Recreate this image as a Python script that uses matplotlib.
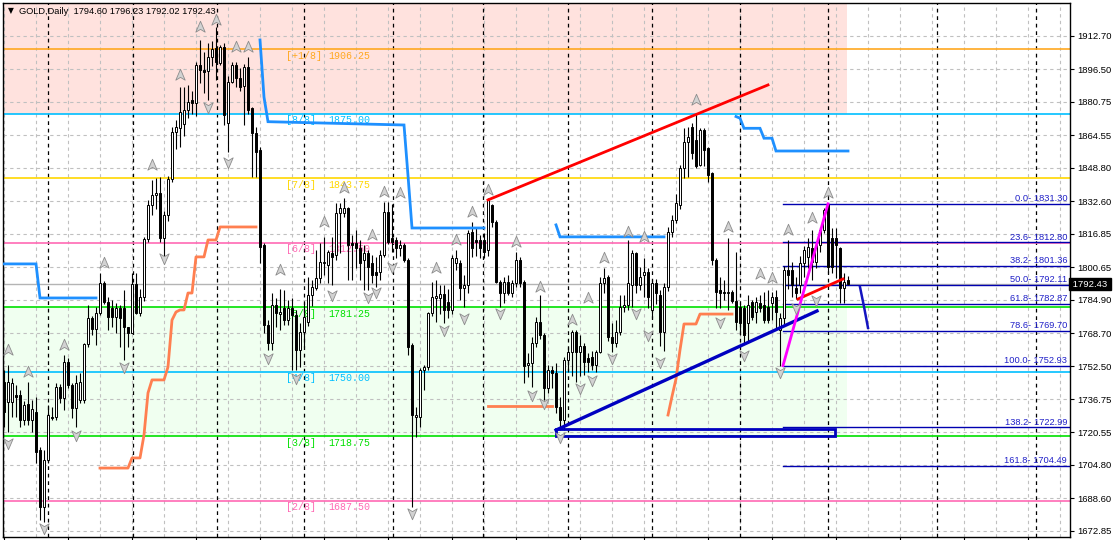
import matplotlib
matplotlib.use("Agg")
import matplotlib.pyplot as plt
import matplotlib.transforms as mtrans
from matplotlib.path import Path
from matplotlib.patches import Rectangle

# ---- daily OHLC (bar 0 = leftmost candle) ----
opens = [
    1745.2, 1735.5, 1735.5, 1738.7, 1738.7, 1726.6, 1734.3, 1726.6, 1730.6, 1712.1,
    1684.6, 1707.2, 1728.2, 1728.2, 1742.7, 1737.1, 1754.8, 1743.5, 1732.2, 1736.3,
    1736.3, 1763.2, 1775.8, 1770.7, 1778.3, 1792.8, 1783.9, 1780.7, 1776.7, 1780.7,
    1780.7, 1771.8, 1768.6, 1792.3, 1778.3, 1786.4, 1814.1, 1830.8, 1835.6, 1836.4,
    1814.6, 1825.9, 1843.4, 1866.0, 1868.0, 1870.0, 1876.8, 1881.7, 1880.0, 1898.6,
    1896.0, 1895.8, 1902.6, 1906.7, 1899.4, 1907.5, 1870.3, 1890.5, 1898.6, 1892.1,
    1888.4, 1897.8, 1877.6, 1865.5, 1857.4, 1811.4, 1772.6, 1763.8, 1782.3, 1778.0,
    1780.7, 1775.1, 1780.7, 1777.5, 1760.5, 1769.4, 1774.2, 1787.1, 1790.4, 1795.2,
    1802.5, 1801.7, 1807.3, 1806.5, 1826.7, 1826.7, 1829.1, 1812.2, 1812.2, 1809.7,
    1804.1, 1807.3, 1802.5, 1798.4, 1798.4, 1806.5, 1827.5, 1814.6, 1813.8, 1809.7,
    1811.4, 1804.1, 1762.9, 1728.2, 1728.2, 1750.8, 1752.4, 1778.3, 1785.5, 1785.5,
    1787.5, 1783.9, 1779.9, 1802.5, 1802.5, 1790.4, 1792.0, 1817.8, 1813.8, 1813.8,
    1813.8, 1809.0, 1830.8, 1822.7, 1793.6, 1788.0, 1793.6, 1788.0, 1792.8, 1804.1,
    1793.6, 1753.3, 1754.1, 1763.8, 1774.3, 1767.8, 1742.0, 1750.8, 1749.2, 1733.1,
    1726.6, 1755.7, 1759.7, 1769.4, 1759.7, 1762.2, 1756.5, 1757.3, 1753.3, 1759.7,
    1792.8, 1796.1, 1767.0, 1763.8, 1769.4, 1781.5, 1782.3, 1792.0, 1807.4, 1792.0,
    1797.0, 1798.5, 1779.9, 1792.8, 1787.2, 1769.4, 1791.2, 1817.9, 1823.5, 1830.8,
    1848.5, 1861.5, 1868.7, 1862.3, 1850.2, 1867.1, 1858.2, 1846.1, 1804.1, 1789.6,
    1788.8, 1788.0, 1788.8, 1784.0, 1781.5, 1780.7, 1773.4, 1783.9, 1779.0, 1783.1,
    1782.3, 1781.5, 1783.1, 1786.0, 1770.2, 1775.9, 1799.3, 1799.3, 1790.4, 1792.0,
    1802.5, 1805.7, 1809.8, 1803.3, 1811.4, 1818.6, 1830.8, 1814.6, 1814.6, 1809.8,
    1790.4, 1794.60,
]
highs = [
    1750.8, 1753.2, 1746.8, 1743.5, 1741.0, 1736.0, 1745.0, 1736.3, 1737.9, 1713.7,
    1712.0, 1733.9, 1733.0, 1744.3, 1744.0, 1758.1, 1756.5, 1744.3, 1748.4, 1749.2,
    1764.0, 1782.3, 1777.0, 1781.5, 1797.6, 1794.0, 1786.3, 1784.7, 1783.1, 1782.3,
    1789.6, 1771.8, 1797.6, 1797.6, 1790.0, 1815.0, 1833.0, 1842.9, 1844.0, 1844.5,
    1828.0, 1845.0, 1868.7, 1872.0, 1888.0, 1888.0, 1889.0, 1886.0, 1900.0, 1910.7,
    1905.0, 1909.0, 1910.0, 1917.2, 1908.3, 1909.0, 1893.0, 1900.0, 1900.0, 1897.0,
    1899.0, 1902.6, 1878.4, 1868.7, 1859.0, 1812.2, 1775.0, 1788.0, 1785.6, 1790.0,
    1789.6, 1784.7, 1785.5, 1779.9, 1773.4, 1783.9, 1796.0, 1794.4, 1808.9, 1812.2,
    1815.4, 1808.9, 1815.4, 1831.6, 1831.6, 1834.0, 1829.9, 1816.0, 1818.6, 1813.8,
    1811.4, 1808.9, 1806.5, 1805.7, 1808.9, 1832.4, 1832.4, 1831.0, 1815.4, 1814.0,
    1812.2, 1804.9, 1763.7, 1733.0, 1751.6, 1753.2, 1779.0, 1793.6, 1794.4, 1792.0,
    1792.0, 1790.0, 1806.5, 1808.9, 1804.1, 1796.8, 1818.6, 1822.7, 1820.0, 1816.0,
    1817.0, 1834.0, 1831.0, 1823.5, 1794.4, 1796.1, 1796.9, 1794.4, 1808.2, 1805.7,
    1794.4, 1758.9, 1767.0, 1776.7, 1787.2, 1768.6, 1753.0, 1752.5, 1754.1, 1737.9,
    1757.3, 1762.0, 1770.0, 1770.2, 1767.8, 1763.8, 1759.0, 1760.0, 1760.5, 1796.1,
    1800.1, 1796.9, 1773.5, 1775.0, 1787.2, 1787.2, 1813.8, 1809.0, 1808.2, 1800.9,
    1805.0, 1800.0, 1795.0, 1795.0, 1789.6, 1793.0, 1820.0, 1826.0, 1836.0, 1850.0,
    1867.9, 1868.7, 1870.3, 1875.2, 1868.0, 1868.0, 1859.0, 1846.9, 1805.0, 1796.1,
    1794.4, 1814.6, 1789.6, 1808.2, 1783.1, 1782.3, 1787.2, 1784.8, 1786.4, 1787.2,
    1788.8, 1789.6, 1788.8, 1789.6, 1778.3, 1801.0, 1813.8, 1803.0, 1796.0, 1806.0,
    1811.0, 1814.6, 1818.6, 1813.0, 1820.0, 1829.5, 1831.6, 1819.5, 1819.5, 1810.6,
    1797.6, 1796.23,
]
lows = [
    1723.4, 1720.9, 1728.2, 1728.2, 1723.4, 1724.0, 1724.2, 1720.9, 1705.6, 1678.1,
    1677.3, 1705.6, 1726.6, 1726.6, 1735.0, 1731.4, 1742.0, 1727.4, 1723.4, 1735.0,
    1735.0, 1762.1, 1768.0, 1763.0, 1777.5, 1783.0, 1770.2, 1771.8, 1768.6, 1762.1,
    1755.7, 1762.1, 1768.6, 1778.0, 1777.0, 1784.0, 1813.0, 1826.0, 1829.0, 1813.0,
    1804.1, 1823.0, 1842.0, 1858.0, 1859.0, 1864.0, 1873.0, 1875.0, 1874.0, 1890.0,
    1885.0, 1881.7, 1898.0, 1891.3, 1898.6, 1869.5, 1856.6, 1889.7, 1888.0, 1886.0,
    1869.5, 1875.0, 1844.5, 1844.5, 1802.5, 1768.6, 1760.5, 1760.5, 1771.8, 1770.0,
    1772.6, 1772.6, 1750.8, 1750.8, 1752.4, 1762.0, 1772.0, 1782.0, 1789.6, 1792.8,
    1797.0, 1792.8, 1792.0, 1804.1, 1807.3, 1825.0, 1794.4, 1794.4, 1800.0, 1794.4,
    1789.6, 1789.6, 1792.8, 1791.2, 1794.4, 1805.7, 1812.0, 1808.0, 1805.0, 1806.0,
    1803.0, 1758.1, 1684.6, 1718.5, 1723.3, 1741.1, 1751.0, 1777.0, 1774.2, 1778.0,
    1773.4, 1776.0, 1778.0, 1799.3, 1784.7, 1781.5, 1788.0, 1805.7, 1806.0, 1804.9,
    1805.0, 1806.0, 1820.0, 1792.8, 1781.5, 1783.1, 1787.2, 1786.4, 1791.2, 1791.0,
    1744.4, 1747.6, 1742.8, 1762.0, 1766.0, 1736.3, 1739.5, 1742.0, 1729.8, 1721.8,
    1721.8, 1750.0, 1748.0, 1745.0, 1748.0, 1748.4, 1750.0, 1750.8, 1750.0, 1758.9,
    1788.0, 1765.0, 1759.7, 1762.0, 1768.0, 1779.0, 1780.0, 1781.5, 1788.0, 1789.6,
    1786.0, 1781.0, 1776.0, 1783.0, 1762.2, 1760.0, 1789.0, 1815.0, 1821.9, 1829.0,
    1843.7, 1844.5, 1853.0, 1848.5, 1849.4, 1849.4, 1842.1, 1801.7, 1780.7, 1780.7,
    1784.8, 1779.9, 1783.1, 1770.2, 1768.0, 1764.0, 1763.8, 1775.1, 1773.4, 1779.1,
    1773.4, 1773.4, 1775.0, 1771.0, 1752.9, 1773.0, 1790.0, 1786.0, 1785.0, 1788.0,
    1796.0, 1800.0, 1794.4, 1800.0, 1808.0, 1817.0, 1798.0, 1798.0, 1795.2, 1783.1,
    1783.1, 1792.02,
]
closes = [
    1730.6, 1745.2, 1744.3, 1737.9, 1726.6, 1733.9, 1726.6, 1731.8, 1711.2, 1684.6,
    1707.2, 1729.0, 1727.4, 1742.7, 1737.1, 1754.8, 1743.5, 1732.2, 1744.7, 1745.2,
    1763.2, 1775.8, 1770.7, 1778.3, 1792.8, 1783.9, 1776.7, 1776.7, 1780.7, 1775.8,
    1771.8, 1768.6, 1792.3, 1778.3, 1786.3, 1814.1, 1830.8, 1835.6, 1836.7, 1814.6,
    1825.9, 1843.4, 1866.0, 1868.7, 1876.0, 1876.8, 1880.8, 1880.0, 1898.6, 1896.0,
    1895.0, 1902.6, 1906.2, 1900.2, 1907.5, 1874.4, 1890.5, 1898.6, 1892.1, 1887.8,
    1897.8, 1876.8, 1865.5, 1856.6, 1810.6, 1772.6, 1763.8, 1782.3, 1778.3, 1779.0,
    1775.1, 1780.7, 1777.5, 1760.5, 1769.4, 1776.6, 1787.1, 1791.2, 1795.2, 1803.3,
    1803.3, 1808.1, 1805.4, 1826.7, 1829.1, 1829.1, 1811.4, 1811.4, 1809.7, 1802.5,
    1807.3, 1800.9, 1796.8, 1796.8, 1806.5, 1827.5, 1813.0, 1813.0, 1809.7, 1811.4,
    1804.1, 1762.1, 1729.0, 1729.0, 1750.8, 1752.4, 1778.3, 1786.3, 1786.5, 1787.5,
    1779.9, 1779.9, 1804.9, 1804.9, 1790.4, 1792.0, 1817.0, 1809.7, 1813.0, 1809.7,
    1808.2, 1833.2, 1822.7, 1793.6, 1788.0, 1793.6, 1788.0, 1792.8, 1804.1, 1792.8,
    1752.5, 1754.1, 1763.8, 1774.3, 1767.8, 1742.0, 1750.8, 1749.2, 1733.1, 1726.6,
    1755.7, 1759.7, 1769.4, 1759.7, 1762.2, 1754.9, 1754.9, 1753.3, 1759.7, 1792.8,
    1795.3, 1767.0, 1763.8, 1769.4, 1781.5, 1782.3, 1792.8, 1807.4, 1792.0, 1796.1,
    1798.5, 1786.4, 1792.8, 1788.0, 1769.4, 1791.2, 1817.9, 1823.5, 1831.6, 1848.5,
    1861.5, 1863.9, 1855.8, 1849.4, 1867.1, 1857.4, 1845.3, 1804.1, 1788.8, 1788.0,
    1788.0, 1788.8, 1784.0, 1774.2, 1773.4, 1767.8, 1782.3, 1776.7, 1783.9, 1780.7,
    1775.1, 1775.1, 1786.4, 1779.1, 1775.9, 1799.3, 1796.9, 1792.0, 1788.0, 1802.5,
    1809.0, 1810.6, 1803.3, 1811.4, 1818.6, 1828.3, 1800.9, 1800.9, 1811.4, 1790.4,
    1793.6, 1792.43,
]

# ---- Murrey math levels ----
murrey_names = ["[+1/8]", "[8/8]", "[7/8]", "[6/8]", "[5/8]", "[4/8]", "[3/8]", "[2/8]"]
murrey_levels = [1906.25, 1875.00, 1843.75, 1812.50, 1781.25, 1750.00, 1718.75, 1687.50]
murrey_colors = ["#ffa820", "#00bfff", "#ffd700", "#ff69b4", "#00e000", "#00bfff", "#00e000", "#ff69b4"]

# ---- Fibonacci retracement (1752.93 -> 1831.30) ----
fib_pcts = ["0.0", "23.6", "38.2", "50.0", "61.8", "78.6", "100.0", "138.2", "161.8"]
fib_levels = [1831.30, 1812.80, 1801.36, 1792.11, 1782.87, 1769.70, 1752.93, 1722.99, 1704.49]

# ---- step indicators (bar index, value) ----
blue_bars = [[0, 8, 9, 23],
             [64, 65, 66, 100, 101, 102, 120],
             [138, 139, 165],
             [183, 184, 185, 189, 190, 192, 193, 211]]
blue_vals = [[1802.2, 1802.2, 1785.7, 1785.7],
             [1910.7, 1883.0, 1871.1, 1869.5, 1845.0, 1819.6, 1819.6],
             [1821.1, 1815.3, 1815.3],
             [1873.6, 1872.8, 1867.9, 1867.9, 1863.1, 1863.1, 1856.9, 1856.9]]
orange_bars = [[24, 31, 32, 34, 35, 36, 37, 40, 41, 42, 43, 44, 45, 46, 47, 48, 50, 51, 53, 54, 63],
               [121, 137],
               [166, 167, 168, 169, 170, 173, 174, 182]]
orange_vals = [[1703.3, 1703.3, 1708.2, 1708.2, 1719.3, 1739.7, 1746.0, 1746.0, 1752.3, 1775.0,
                1778.9, 1779.9, 1779.9, 1788.1, 1788.1, 1805.6, 1805.6, 1813.8, 1813.8, 1820.1, 1820.1],
               [1733.4, 1733.4],
               [1729.0, 1738.0, 1746.5, 1760.5, 1773.1, 1773.1, 1777.9, 1777.9]]
proj_bars = [214, 215, 216]
proj_vals = [1791.0, 1781.5, 1771.2]

# ---- drawn objects ----
red_line = ([121, 191], [1833.2, 1888.9])
red_short = ([198.5, 209.75], [1785.2, 1794.9])
navy_trend = ([138, 203.25], [1721.7, 1779.4])
navy_box = (138, 207.75, 1718.9, 1722.0)
magenta_line = ([194.75, 206], [1752.93, 1831.30])

# ---- fractals (bar, price) ----
up_frac_bars = [1, 6, 15, 25, 37, 44, 49, 53, 58, 61, 69, 80, 85, 92, 95, 99, 108, 113, 117, 121,
                128, 134, 142, 146, 150, 156, 160, 173, 181, 189, 192, 196, 202, 206]
up_frac_vals = [1760.5, 1749.8, 1762.9, 1802.6, 1850.1, 1893.8, 1917.0, 1920.4, 1907.3, 1907.3,
                1799.3, 1822.5, 1839.0, 1816.2, 1837.1, 1836.6, 1800.2, 1813.8, 1827.4, 1838.0,
                1812.8, 1791.0, 1775.0, 1785.7, 1805.1, 1817.7, 1815.3, 1881.6, 1820.1, 1797.3,
                1795.4, 1818.6, 1824.5, 1836.6]
dn_frac_bars = [1, 10, 18, 30, 40, 51, 56, 66, 73, 82, 91, 93, 97, 102, 110, 115, 124, 132, 135,
                139, 144, 147, 152, 158, 161, 164, 179, 185, 194, 198, 203]
dn_frac_vals = [1715.4, 1674.2, 1719.3, 1752.3, 1805.1, 1878.3, 1851.6, 1756.6, 1746.9, 1787.1,
                1786.2, 1788.6, 1800.7, 1681.5, 1770.2, 1776.0, 1778.4, 1738.7, 1734.8, 1718.3,
                1742.1, 1746.0, 1756.6, 1778.4, 1767.8, 1754.7, 1774.1, 1758.1, 1749.8, 1780.8,
                1784.7]

yticks = [1912.70, 1896.50, 1880.75, 1864.55, 1848.80, 1832.60, 1816.85, 1800.65,
          1784.90, 1768.70, 1752.50, 1736.75, 1720.55, 1704.80, 1688.60, 1672.85]
month_seps = [11, 32.2, 53.2, 75, 97.2, 119.8, 141, 162, 184, 206, 233.2, 258]
bid = closes[-1]


def main():
    W, H = 1117, 540
    fig = plt.figure(figsize=(W / 100, H / 100), dpi=100)
    ax = fig.add_axes([3 / W, 3 / H, 1067 / W, 534 / H])
    ax.set_xlim(-0.25, 266.5)
    ax.set_ylim(1669.9, 1928.6)
    last = len(closes) - 1

    # shaded zones
    ax.add_patch(Rectangle((-0.25, 1875.0), last, 60, fc="#ffe2de", ec="none", zorder=0))
    ax.add_patch(Rectangle((-0.25, 1718.75), last, 62.5, fc="#f0fff0", ec="none", zorder=0))

    # grid
    for v in yticks:
        ax.axhline(v, color="#c0c0c0", lw=0.8, ls=(0, (3, 3)), zorder=0.5)
    for b in range(0, 267, 8):
        ax.axvline(b, color="#c0c0c0", lw=0.8, ls=(0, (3, 3)), zorder=0.5)
    for b in month_seps:
        ax.axvline(b, color="black", lw=0.9, ls=(0, (3, 3)), zorder=0.6)

    # murrey lines and labels
    for name, lv, col in zip(murrey_names, murrey_levels, murrey_colors):
        ax.axhline(lv, color=col, lw=1.2, zorder=1)
        ax.annotate(name, (70.5, lv), xytext=(0, -4.6), textcoords="offset points",
                    va="center", ha="left", color=col, fontsize=7.2,
                    family="Liberation Mono", zorder=1)
        ax.annotate("%.2f" % lv, (81, lv), xytext=(0, -4.6), textcoords="offset points",
                    va="center", ha="left", color=col, fontsize=7.2,
                    family="Liberation Mono", zorder=1)

    # bid line
    ax.axhline(bid, color="#b4b4b4", lw=1, zorder=1)

    # fib levels
    for pct, lv in zip(fib_pcts, fib_levels):
        ax.plot([194.75, 266.5], [lv, lv], color="#0000b0", lw=1, zorder=2)
        ax.annotate("%s- %.2f" % (pct, lv), (265.8, lv), xytext=(0, 3.6),
                    textcoords="offset points", ha="right", va="center",
                    color="#2020c8", fontsize=6.7, family="Liberation Sans", zorder=2)

    # candles
    for i in range(len(closes)):
        o, h, l, c = opens[i], highs[i], lows[i], closes[i]
        ax.plot([i, i], [l, h], color="black", lw=0.8, zorder=3, solid_capstyle="butt")
        bot, top = min(o, c), max(o, c)
        fc = "white" if c >= o else "black"
        ax.add_patch(Rectangle((i - 0.36, bot), 0.72, max(top - bot, 0.3),
                               fc=fc, ec="black", lw=0.7, zorder=3.1))

    # step indicators
    for bs, vs in zip(blue_bars, blue_vals):
        ax.plot(bs, vs, color="#1e90ff", lw=2, zorder=4, solid_joinstyle="miter")
    for bs, vs in zip(orange_bars, orange_vals):
        ax.plot(bs, vs, color="#ff7f50", lw=2, zorder=4)
    ax.plot(proj_bars, proj_vals, color="#1414c0", lw=1.8, zorder=4)

    # trend objects
    ax.plot(*red_line, color="#ff0000", lw=2, zorder=5)
    ax.plot(*red_short, color="#ff0000", lw=2, zorder=5)
    ax.plot(*navy_trend, color="#0000c0", lw=2.4, zorder=5)
    x0, x1, y0, y1 = navy_box
    ax.add_patch(Rectangle((x0, y0), x1 - x0, y1 - y0, fc="none", ec="#0000c0", lw=2, zorder=5))
    ax.plot(*magenta_line, color="#ff00ff", lw=2, zorder=5)

    # fractal arrows
    up_arrow = Path([(0, 1), (0.75, -0.75), (0, -0.3), (-0.75, -0.75), (0, 1)],
                    [Path.MOVETO, Path.LINETO, Path.LINETO, Path.LINETO, Path.CLOSEPOLY])
    dn_arrow = Path([(0, -1), (0.75, 0.75), (0, 0.3), (-0.75, 0.75), (0, -1)],
                    [Path.MOVETO, Path.LINETO, Path.LINETO, Path.LINETO, Path.CLOSEPOLY])
    ax.plot(up_frac_bars, up_frac_vals, ls="none", marker=up_arrow, ms=9,
            mfc="#d2d2d2", mec="#8c8c8c", mew=0.6, zorder=6)
    ax.plot(dn_frac_bars, dn_frac_vals, ls="none", marker=dn_arrow, ms=9,
            mfc="#d2d2d2", mec="#8c8c8c", mew=0.6, zorder=6)

    # axes styling
    for s in ax.spines.values():
        s.set_color("black")
        s.set_linewidth(1)
    ax.yaxis.tick_right()
    ax.set_yticks(yticks)
    ax.set_yticklabels(["%.2f" % v for v in yticks], fontsize=6.8, family="Liberation Sans")
    ax.tick_params(axis="y", direction="out", length=3, width=0.8, pad=2.5)
    ax.set_xticks(range(0, 267, 16))
    ax.set_xticklabels([])
    ax.tick_params(axis="x", direction="out", length=3, width=0.8)

    # current price box
    tr = mtrans.blended_transform_factory(ax.transAxes, ax.transData)
    ax.text(1.0, bid, " %.2f " % bid, transform=tr, ha="left", va="center",
            color="white", fontsize=6.8, family="Liberation Sans",
            bbox=dict(boxstyle="square,pad=0.15", fc="black", ec="black"), zorder=10,
            clip_on=False)

    # header
    fig.text(8 / W, 1 - 11 / H, "\u25bc", fontsize=5.5, va="center", ha="left", color="black")
    fig.text(19 / W, 1 - 11 / H, "GOLD,Daily  %.2f %.2f %.2f %.2f" % (opens[-1], highs[-1], lows[-1], closes[-1]),
             fontsize=6.7, family="Liberation Sans", va="center", ha="left", color="black")

    fig.savefig("out.png", dpi=100)


if __name__ == "__main__":
    main()
